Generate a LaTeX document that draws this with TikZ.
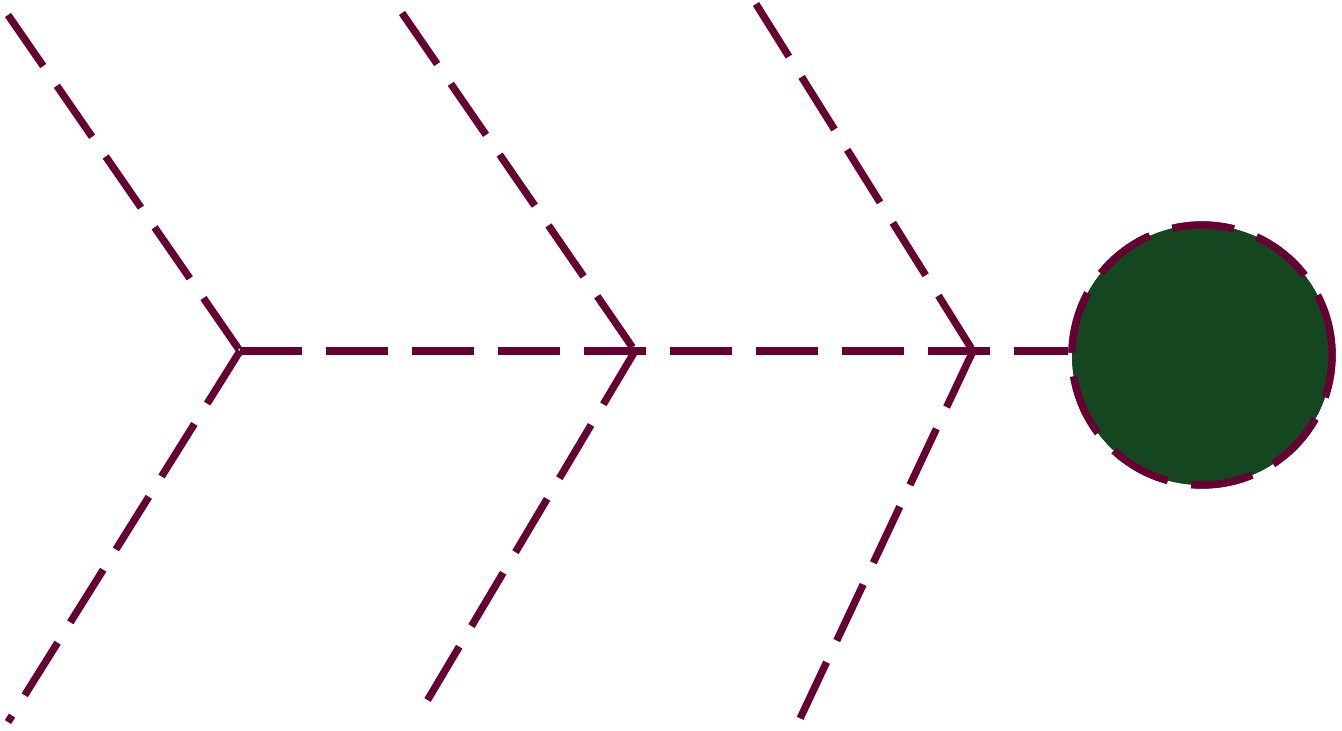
\documentclass[tikz,border=0pt]{standalone}
\definecolor{bonecol}{RGB}{102,0,51}
\definecolor{headcol}{RGB}{20,70,32}
\tikzset{
  bone/.style={draw=bonecol, line width=5.5pt, dash pattern=on 46.5pt off 18pt},
  fishhead/.style={circle, bone, fill=headcol, minimum size=195pt, inner sep=0pt}
}
\begin{document}
\begin{tikzpicture}[x=.75pt, y=-.75pt]
\useasboundingbox (0,0) rectangle (1342,731);
% joints on the spine
\coordinate (j1) at (240,351);
\coordinate (j2) at (635,351);
\coordinate (j3) at (973,351);
% free ends of the bones
\coordinate (t1) at (8,15);
\coordinate (b1) at (8,722);
\coordinate (t2) at (402,13);
\coordinate (b2) at (424,706);
\coordinate (t3) at (756,4);
\coordinate (b3) at (797,725);
\node[fishhead] (head) at (1202,355) {};
\draw[bone] (j1) -- (j1 -| head.west);
\draw[bone] (t1) -- (j1) (j1) -- (b1);
\draw[bone] (t2) -- (j2) (j2) -- (b2);
\draw[bone] (t3) -- (j3) (j3) -- (b3);
\node[fishhead] at (head) {};
\end{tikzpicture}
\end{document}
